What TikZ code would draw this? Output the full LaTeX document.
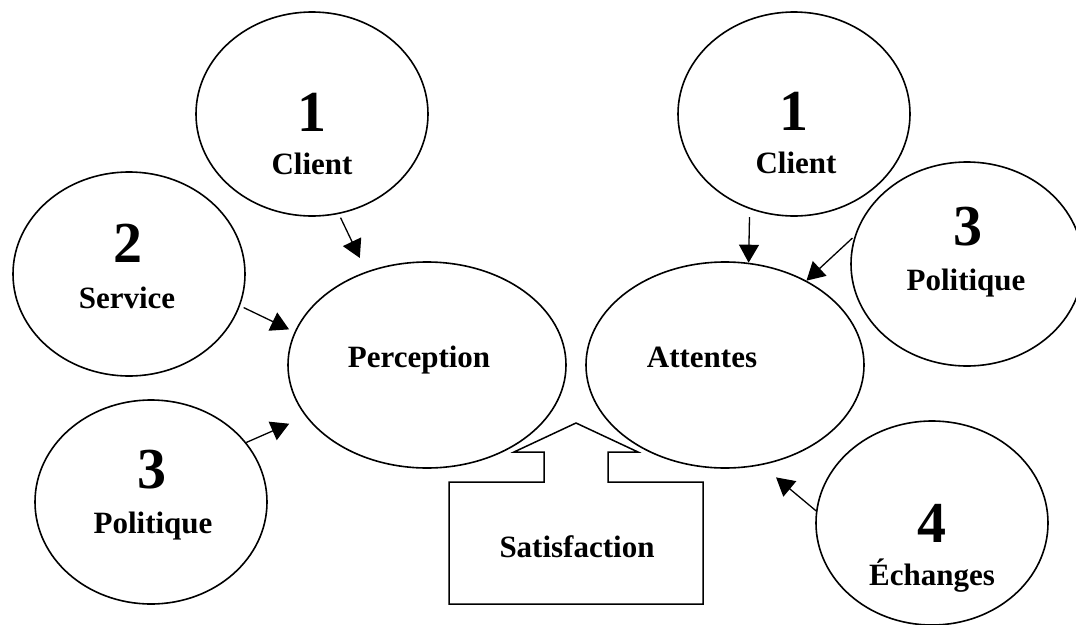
\documentclass[tikz,border=0pt]{standalone}
\usepackage{fontspec}
\setmainfont{Liberation Serif}
\usetikzlibrary{shapes.geometric,arrows.meta}

\begin{document}
\begin{tikzpicture}[x=1pt,y=-1pt,
		bulle/.style={draw,ellipse,line width=1.6pt,inner sep=0pt,minimum width=232pt,minimum height=204pt},
		grande/.style={bulle,minimum width=278pt,minimum height=206pt},
		chiffre/.style={anchor=base,font=\fontsize{58}{60}\selectfont\bfseries},
		etiq/.style={anchor=base,font=\fontsize{31}{34}\selectfont\bfseries},
		fleche/.style={-{Triangle[length=18pt,width=20pt]},line width=1.3pt}]
		\useasboundingbox (0,0) rectangle (1076,624);
		\clip (0,0) rectangle (1076,624);
		% les deux bulles centrales
		\node[grande] (perception) at (427,365) {};
		\node[grande] (attentes) at (725,365) {};
		\node[etiq] (tperception) at (419,367) {Perception};
		\node[etiq] (tattentes) at (702,367) {Attentes};
		% bulles de gauche
		\node[bulle] (clientA) at (312,114) {};
		\node[chiffre] (nclientA) at (312,131) {1};
		\node[etiq] (tclientA) at (312,174) {Client};
		\node[bulle] (service) at (129,274) {};
		\node[chiffre] (nservice) at (128,262) {2};
		\node[etiq] (tservice) at (127,308) {Service};
		\node[bulle] (politiqueA) at (151,502) {};
		\node[chiffre] (npolitiqueA) at (152,488) {3};
		\node[etiq] (tpolitiqueA) at (153,533) {Politique};
		% bulles de droite
		\node[bulle] (clientB) at (794,114) {};
		\node[chiffre] (nclientB) at (794,130) {1};
		\node[etiq] (tclientB) at (796,173) {Client};
		\node[bulle] (politiqueB) at (967,264) {};
		\node[chiffre] (npolitiqueB) at (968,245) {3};
		\node[etiq] (tpolitiqueB) at (966,290) {Politique};
		\node[bulle] (echanges) at (932,523) {};
		\node[chiffre] (nechanges) at (932,542) {4};
		\node[etiq] (techanges) at (932,585) {Échanges};
		% fleches
		\draw[fleche,shorten <=4pt,shorten >=15pt] (clientA.-75) -- (perception.123);
		\draw[fleche,shorten <=4pt,shorten >=6pt] (service.-16) -- (perception.166);
		\draw[fleche,shorten >=18pt] (politiqueA.32) -- (perception.203);
		\draw[fleche,shorten <=8pt] (clientB.-115) -- (attentes.77);
		\draw[fleche,shorten <=3pt] (politiqueB.166) -- (attentes.46);
		\draw[fleche,shorten >=19pt] (echanges.174) -- (attentes.-70);
		% fleche satisfaction
		\filldraw[fill=white,line width=1.5pt] (449,482) -- (544,482) -- (544,452) -- (514,452) -- (576,423)
			-- (638,452) -- (608,452) -- (608,482) -- (703,482) -- (703,604) -- (449,604) -- cycle;
		\node[etiq] (satisfaction) at (577,557) {Satisfaction};
\end{tikzpicture}
\end{document}
